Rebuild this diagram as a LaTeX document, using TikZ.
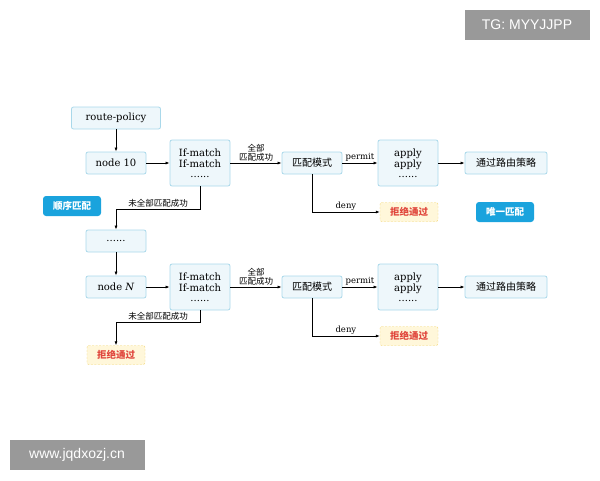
\documentclass[tikz,border=0pt]{standalone}
\usepackage{fontspec}
\setmainfont{DejaVu Serif}
\newfontfamily\cjk{Noto Sans CJK SC}
\newfontfamily\wmfont{Liberation Sans}
\usepackage{tikz}
\usetikzlibrary{arrows.meta, positioning}
\definecolor{boxfill}{HTML}{EEF7FB}
\definecolor{boxline}{HTML}{A9D8EA}
\definecolor{tagblue}{HTML}{1AA3DD}
\definecolor{rejfill}{HTML}{FFF7DA}
\definecolor{rejline}{HTML}{F2D36B}
\definecolor{rejtext}{HTML}{E0463C}
\tikzset{
  box/.style={draw=boxline, fill=boxfill, rounded corners=2pt, line width=0.8pt,
    minimum width=60pt, minimum height=22pt, inner sep=1pt, font=\fontsize{10}{12}\selectfont},
  tallbox/.style={box, minimum height=46pt, align=center, font=\fontsize{10}{12}\selectfont},
  cbox/.style={box, font=\cjk\fontsize{10}{11}\selectfont},
  tag/.style={fill=tagblue, rounded corners=3pt, text=white, minimum width=58pt,
    minimum height=20pt, font=\cjk\bfseries\fontsize{9.5}{10}\selectfont},
  reject/.style={draw=rejline, dashed, dash pattern=on 2pt off 1.5pt, fill=rejfill, rounded corners=2pt,
    text=rejtext, minimum width=58pt, minimum height=19pt, font=\cjk\bfseries\fontsize{9.5}{10}\selectfont},
  lbl/.style={font=\fontsize{8.5}{10}\selectfont, inner sep=1pt},
  clbl/.style={font=\cjk\fontsize{8.5}{9.5}\selectfont, inner sep=1pt, align=center},
  flow/.style={-{Latex[length=4pt,width=3pt]}, line width=0.7pt},
  wmark/.style={fill=black!40, text=white, font=\wmfont\fontsize{14}{15}\selectfont}
}
\begin{document}
\begin{tikzpicture}[x=1pt, y=-1pt]
  \useasboundingbox (0,0) rectangle (600,480);
  % first node
  \node[box, minimum width=89pt] (policy) at (116,118) {route-policy};
  \node[box] (node1) at (116,163) {node 10};
  \node[tallbox] (match1) at (200,163) {If-match\\[-1pt]If-match\\[-2pt]......};
  \node[cbox] (mode1) at (312,163) {匹配模式};
  \node[tallbox] (apply1) at (408,163) {apply\\[-1pt]apply\\[-2pt]......};
  \node[cbox, minimum width=82pt] (pass1) at (506,163) {通过路由策略};
  \node[reject] (deny1) at (409,212) {拒绝通过};
  \node[tag] (unique) at (505,212) {唯一匹配};
  \node[tag] (order) at (72,206) {顺序匹配};
  % middle
  \node[box] (dots) at (116,241) {......};
  % last node
  \node[box] (node2) at (116,287) {node \textit{N}};
  \node[tallbox] (match2) at (200,287) {If-match\\[-1pt]If-match\\[-2pt]......};
  \node[cbox] (mode2) at (312,287) {匹配模式};
  \node[tallbox] (apply2) at (408,287) {apply\\[-1pt]apply\\[-2pt]......};
  \node[cbox, minimum width=82pt] (pass2) at (506,287) {通过路由策略};
  \node[reject] (deny2) at (409,336) {拒绝通过};
  \node[reject] (fail) at (116,355) {拒绝通过};
  % connectors
  \draw[flow] (policy) -- (node1);
  \draw[flow] (node1) -- (match1);
  \draw[flow] (match1) -- node[clbl, above] {全部\\匹配成功} (mode1);
  \draw[flow] (mode1) -- node[lbl, above] {permit} (apply1);
  \draw[flow] (apply1) -- (pass1);
  \draw[flow] (mode1.south) |- node[lbl, pos=0.75, above] {deny} (deny1);
  \draw[flow] (match1.south) |- node[clbl, pos=0.75, above] {未全部匹配成功} (116,209) -- (dots);
  \draw[flow] (dots) -- (node2);
  \draw[flow] (node2) -- (match2);
  \draw[flow] (match2) -- node[clbl, above] {全部\\匹配成功} (mode2);
  \draw[flow] (mode2) -- node[lbl, above] {permit} (apply2);
  \draw[flow] (apply2) -- (pass2);
  \draw[flow] (mode2.south) |- node[lbl, pos=0.75, above] {deny} (deny2);
  \draw[flow] (match2.south) |- node[clbl, pos=0.75, above] {未全部匹配成功} (116,322) -- (fail);
  % watermarks
  \node[wmark, minimum width=125pt, minimum height=30pt] (tg) at (527,25) {TG: MYYJJPP};
  \node[wmark, minimum width=135pt, minimum height=30pt] (web) at (77,455) {www.jqdxozj.cn};
\end{tikzpicture}
\end{document}
